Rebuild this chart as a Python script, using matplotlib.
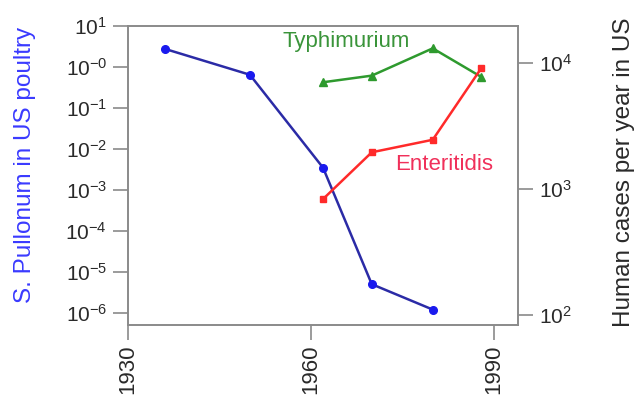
import numpy as np
import matplotlib.pyplot as plt

plt.rcParams['font.family'] = ['Liberation Sans', 'DejaVu Sans']
plt.rcParams['mathtext.fontset'] = 'custom'
plt.rcParams['mathtext.rm'] = 'Liberation Sans'

# S. Pullorum prevalence in US poultry (left axis)
pull_years = [1936, 1950, 1962, 1970, 1980]
pull_vals = [2.8, 0.65, 3.5e-3, 5e-6, 1.2e-6]

# Human cases per year in US (right axis)
typh_years = [1962, 1970, 1980, 1988]
typh_vals = [7000, 7900, 13000, 7700]
ent_years = [1962, 1970, 1980, 1988]
ent_vals = [830, 1950, 2450, 9100]

left_ticks = [1e1, 1e0, 1e-1, 1e-2, 1e-3, 1e-4, 1e-5, 1e-6]
left_labels = [r'$\mathregular{10^{1}}$', r'$\mathregular{10^{-0}}$'] + \
              [r'$\mathregular{10^{-%d}}$' % k for k in range(1, 7)]
right_ticks = [1e2, 1e3, 1e4]
right_labels = [r'$\mathregular{10^{%d}}$' % k for k in (2, 3, 4)]
x_ticks = [1930, 1960, 1990]

fig = plt.figure(figsize=(6.38, 3.96), dpi=100)
ax = fig.add_axes([0.2006, 0.179, 0.6114, 0.755])
ax2 = ax.twinx()

ax.plot(pull_years, pull_vals, color='#2b2ba6', lw=1.8, marker='o', ms=5.5,
        mfc='#1a1aee', mec='#1a1aee', zorder=3)
ax2.plot(typh_years, typh_vals, color='#2e9a2e', lw=1.8, marker='^', ms=6,
         mfc='#2e9a2e', mec='#2e9a2e')
ax2.plot(ent_years, ent_vals, color='#ff2a2a', lw=1.8, marker='s', ms=5,
         mfc='#ff2a2a', mec='#ff2a2a')

ax.set_yscale('log')
ax.set_ylim(10 ** -6.3, 10 ** 1)
ax.set_yticks(left_ticks)
ax.set_yticklabels(left_labels)
ax.minorticks_off()
ax.set_xlim(1930, 1994)
ax.set_xticks(x_ticks)
ax.set_xticklabels([str(x) for x in x_ticks], rotation=90)

ax2.set_yscale('log')
ax2.set_ylim(10 ** 1.92, 10 ** 4.29)
ax2.set_yticks(right_ticks)
ax2.set_yticklabels(right_labels)
ax2.minorticks_off()

for a in (ax, ax2):
    for s in a.spines.values():
        s.set_color('#8a8a8a')
        s.set_linewidth(1.2)
    a.tick_params(colors='#8a8a8a', labelcolor='#2a2a2a', labelsize=15,
                  length=11, width=1.2, pad=4)
ax.tick_params(axis='x', length=11, pad=3, labelsize=16)

ax.set_ylabel('S. Pullonum in US poultry', color='#3a3aff', fontsize=17.5)
ax.yaxis.set_label_coords(-0.236, 0.535)
ax2.set_ylabel('Human cases per year in US', color='#2a2a2a', fontsize=17.5)
ax2.yaxis.set_label_coords(1.244, 0.51)

ax2.text(1965.8, 10 ** 4.17, 'Typhimurium', color='#3a943a', fontsize=16, ha='center', va='center')
ax2.text(1981.8, 10 ** 3.19, 'Enteritidis', color='#f0305a', fontsize=16, ha='center', va='center')

plt.savefig('out.png', dpi=100)
